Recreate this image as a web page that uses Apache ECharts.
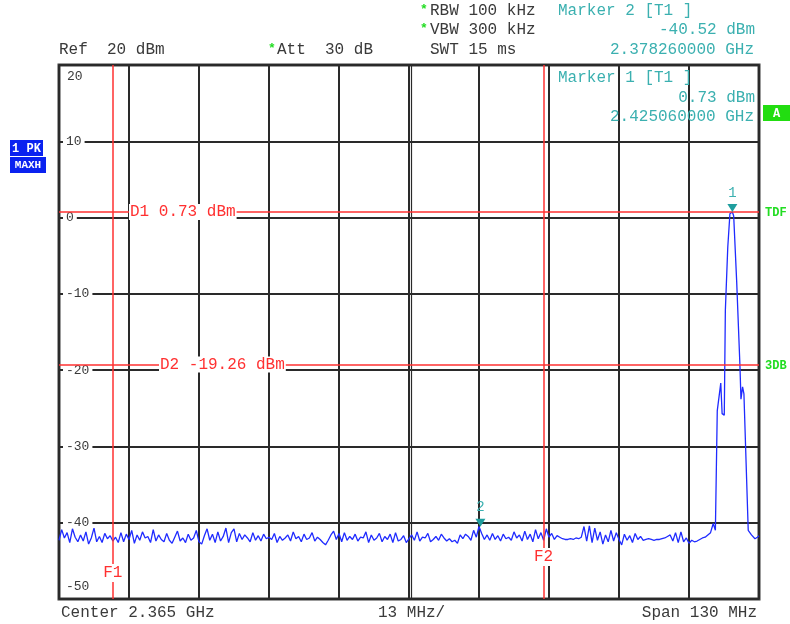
<!DOCTYPE html>
<html><head><meta charset="utf-8">
<script src="https://cdn.jsdelivr.net/npm/echarts@6/dist/echarts.min.js"></script>
<style>html,body{margin:0;padding:0;background:#fff}#c{width:790px;height:624px}</style>
</head><body><div id="c"></div>
<script>
// ---- data ----
const startMHz = 2300, spanMHz = 130, divMHz = 13;
const refLevel = 20, bottomLevel = -50, dbPerDiv = 10;
const noiseStepMHz = 0.5;
const noiseLevels = [
 -42.3,-40.9,-42.0,-41.3,-42.6,-40.8,-41.9,-42.5,-41.6,-42.4,
 -41.2,-42.8,-42.0,-40.7,-42.5,-41.8,-42.6,-41.4,-42.1,-41.7,
 -42.4,-41.9,-42.6,-41.3,-42.5,-41.5,-42.2,-41.0,-42.7,-41.6,
 -42.3,-41.2,-42.0,-41.8,-42.6,-40.9,-42.4,-41.6,-42.2,-42.5,
 -41.4,-42.3,-42.7,-41.9,-41.1,-42.4,-42.0,-42.6,-41.5,-42.3,
 -42.0,-41.0,-42.5,-42.8,-41.7,-40.8,-42.3,-41.5,-42.6,-41.2,
 -42.4,-41.8,-40.7,-42.6,-41.3,-40.8,-42.5,-41.4,-42.2,-41.6,
 -42.0,-42.5,-41.3,-42.3,-41.7,-42.4,-41.5,-42.1,-41.9,-42.2,
 -41.4,-42.6,-41.8,-42.3,-42.0,-41.6,-42.4,-41.2,-42.1,-41.8,
 -42.5,-41.5,-42.2,-42.0,-41.3,-42.4,-41.9,-42.2,-42.6,-42.9,
 -42.3,-41.6,-41.1,-42.2,-41.4,-42.5,-41.3,-42.3,-41.8,-42.2,
 -41.5,-42.4,-41.9,-42.0,-41.2,-42.6,-41.6,-42.3,-42.0,-41.4,
 -42.5,-41.8,-42.2,-41.5,-42.6,-41.3,-42.4,-42.2,-41.7,-42.6,
 -42.1,-41.6,-42.3,-41.2,-42.4,-41.9,-42.0,-41.4,-42.5,-42.2,
 -41.8,-42.3,-41.5,-42.0,-42.4,-42.1,-42.5,-42.3,-42.7,-41.6,
 -42.1,-41.5,-41.8,-42.3,-41.0,-41.9,-40.5,-41.4,-42.2,-41.6,
 -42.3,-41.4,-42.2,-41.7,-42.4,-41.5,-42.1,-41.9,-42.3,-41.2,
 -42.0,-41.6,-42.4,-41.1,-42.2,-41.5,-42.5,-40.9,-42.1,-41.3,
 -42.3,-40.8,-41.9,-41.4,-42.2,-41.7,-41.9,-42.1,-42.2,-42.2,
 -42.1,-42.2,-42.0,-42.1,-41.9,-40.5,-42.4,-40.4,-42.6,-40.7,
 -42.3,-41.2,-42.8,-41.6,-42.5,-41.0,-42.4,-41.3,-42.2,-42.9,
 -41.5,-42.3,-41.7,-42.6,-41.4,-42.2,-41.8,-42.3,-42.2,-42.1,
 -42.2,-42.3,-42.2,-42.2,-42.1,-42.0,-41.8,-41.6,-42.4,-41.3,
 -42.6,-41.2,-42.5,-42.0,-42.7,-42.3,-42.5,-42.4,-42.2,-42.0,
 -41.9,-41.6
];
const sigFreqsMHz = [2421.0,2421.5,2421.9,2422.25,2422.9,2423.15,2423.55,2423.75,2424.2,2424.6,2425.06,2425.3,2425.85,2426.45,2426.65,2426.95,2427.2,2428.0,2428.6,2429.25,2429.7,2430.0];
const sigLevels   = [-41.3,-40.1,-41.0,-25.3,-21.7,-25.7,-25.9,-12.2,-3.9,0.5,0.73,0.2,-8.3,-19.2,-23.8,-22.2,-23.1,-41.0,-41.6,-42.1,-41.9,-41.7];
const markerNames = ['1','2'];
const markerFreqsMHz = [2425.06, 2378.26];
const markerLevels = [0.73, -40.52];
const displayLineNames = ['D1','D2'];
const displayLineLevels = [0.73, -19.26];
const displayLineTags = ['TDF','3DB'];
const freqLineNames = ['F1','F2'];
const freqLinesMHz = [2310, 2390];

// ---- chart ----
const MONO = '"Liberation Mono","DejaVu Sans Mono",monospace';
const TEAL = '#3bb0b0', RED = '#ff3030', GREEN = '#22dd22', TXT = '#3a3a3a';
const trace = noiseLevels.map((v, i) => [i * noiseStepMHz, v])
  .concat(sigFreqsMHz.map((f, i) => [f - startMHz, sigLevels[i]]));

const chart = echarts.init(document.getElementById('c'));
const labelOffsets = [70, 100];
const option = {
  animation: false,
  backgroundColor: '#fff',
  grid: { left: 59, top: 65, right: 31, bottom: 25, show: true, borderColor: '#3a3a3a', borderWidth: 3 },
  xAxis: { type: 'value', min: 0, max: spanMHz, interval: divMHz,
    axisLine: { show: false }, axisTick: { show: false }, axisLabel: { show: false },
    splitLine: { show: true, lineStyle: { color: '#2a2a2a', width: 2 } } },
  yAxis: { type: 'value', min: bottomLevel, max: refLevel, interval: dbPerDiv,
    axisLine: { show: false }, axisTick: { show: false },
    axisLabel: { inside: true, margin: 4, showMinLabel: false, showMaxLabel: false, color: TXT,
      fontFamily: MONO, fontSize: 13, backgroundColor: '#fff', padding: [1, 3] },
    splitLine: { show: true, lineStyle: { color: '#2a2a2a', width: 2 } } },
  series: [{
    type: 'line', data: trace, symbol: 'none', silent: true, z: 3,
    lineStyle: { color: '#1f2bff', width: 1.3 },
    markLine: {
      silent: true, symbol: ['none', 'none'], animation: false,
      lineStyle: { color: RED, width: 1.5, type: 'solid' },
      label: { position: 'insideStart', color: RED, fontFamily: MONO, fontSize: 16,
        backgroundColor: '#fff', padding: [0, 1] },
      emphasis: { disabled: true },
      data: displayLineLevels.map((v, i) => ({ yAxis: v,
        label: { formatter: displayLineNames[i] + ' ' + v.toFixed(2) + ' dBm', distance: [labelOffsets[i], 0] } }))
        .concat(freqLinesMHz.map(f => ({ xAxis: f - startMHz, label: { show: false } })))
    },
    markPoint: {
      silent: true, symbol: 'triangle', symbolRotate: 180, symbolSize: [10, 8], symbolOffset: [0, '-50%'],
      itemStyle: { color: '#1f9e9e' },
      label: { show: true, position: 'top', distance: 4, color: TEAL, fontFamily: MONO, fontSize: 14 },
      data: markerFreqsMHz.map((f, i) => ({ coord: [f - startMHz, markerLevels[i]], label: { formatter: markerNames[i] } }))
    }
  }]
};
chart.setOption(option);

const px = (mhzOff, lvl) => chart.convertToPixel({ gridIndex: 0 }, [mhzOff, lvl]);
const topY = px(0, refLevel)[1], botY = px(0, bottomLevel)[1];
const t = (text, x, y, fill, extra) => Object.assign({ type: 'text', x, y, silent: true,
  style: Object.assign({ text, fill, font: '16px ' + MONO, verticalAlign: 'middle', align: 'left' }, extra || {}) });
const g = [];
// second line of the doubled centre graticule line
const cx = px(spanMHz / 2, 0)[0] + 2.5;
g.push({ type: 'line', silent: true, z: 1, shape: { x1: cx, y1: topY, x2: cx, y2: botY }, style: { stroke: '#2a2a2a', lineWidth: 1.2 } });
// header
g.push(t('Ref  20 dBm', 59, 50, TXT));
g.push(t('*', 268, 49, GREEN, { font: 'bold 13px ' + MONO }));
g.push(t('Att  30 dB', 277, 50, TXT));
g.push(t('*', 420, 10, GREEN, { font: 'bold 13px ' + MONO }));
g.push(t('RBW 100 kHz', 430, 11, TXT));
g.push(t('*', 420, 29, GREEN, { font: 'bold 13px ' + MONO }));
g.push(t('VBW 300 kHz', 430, 30, TXT));
g.push(t('SWT 15 ms', 430, 50, TXT));
g.push(t('Marker ' + markerNames[1] + ' [T1 ]', 558, 11, TEAL));
g.push(t(markerLevels[1].toFixed(2) + ' dBm', 755, 30, TEAL, { align: 'right' }));
g.push(t((markerFreqsMHz[1] / 1000).toFixed(9) + ' GHz', 754, 50, TEAL, { align: 'right' }));
g.push(t('Marker ' + markerNames[0] + ' [T1 ]', 558, 78, TEAL));
g.push(t(markerLevels[0].toFixed(2) + ' dBm', 755, 98, TEAL, { align: 'right' }));
g.push(t((markerFreqsMHz[0] / 1000).toFixed(9) + ' GHz', 754, 117, TEAL, { align: 'right' }));
// footer
g.push(t('Center 2.365 GHz', 61, 613, TXT));
g.push(t('13 MHz/', 378, 613, TXT));
g.push(t('Span 130 MHz', 757, 613, TXT, { align: 'right' }));
// y extreme labels
g.push(t(String(refLevel), 67, topY + 12, TXT, { font: '13px ' + MONO }));
g.push(t(String(bottomLevel), 66, botY - 12, TXT, { font: '13px ' + MONO }));
// F labels
const fLabelRise = [26, 42];
freqLinesMHz.forEach((f, i) => {
  const p = px(f - startMHz, 0);
  g.push(t(freqLineNames[i], p[0], botY - fLabelRise[i], RED,
    { align: 'center', backgroundColor: '#fff', padding: [1, 1] }));
});
// side tags
displayLineLevels.forEach((v, i) => {
  g.push(t(displayLineTags[i], 765, px(0, v)[1] + 1, GREEN, { font: 'bold 12px ' + MONO }));
});
// left boxes
g.push({ type: 'rect', shape: { x: 10, y: 140, width: 33, height: 16 }, style: { fill: '#0a22f0' }, silent: true });
g.push(t('1 PK', 26.5, 148.5, '#fff', { font: 'bold 12px ' + MONO, align: 'center' }));
g.push({ type: 'rect', shape: { x: 10, y: 157, width: 36, height: 16 }, style: { fill: '#0a22f0' }, silent: true });
g.push(t('MAXH', 28, 165.5, '#fff', { font: 'bold 11px ' + MONO, align: 'center' }));
g.push({ type: 'rect', shape: { x: 763, y: 105, width: 27, height: 16 }, style: { fill: '#22dd11' }, silent: true });
g.push(t('A', 776.5, 113.5, '#fff', { font: 'bold 12px ' + MONO, align: 'center' }));
chart.setOption({ graphic: g.map(e => Object.assign({ z: 100 }, e)) });
</script>
</body></html>
